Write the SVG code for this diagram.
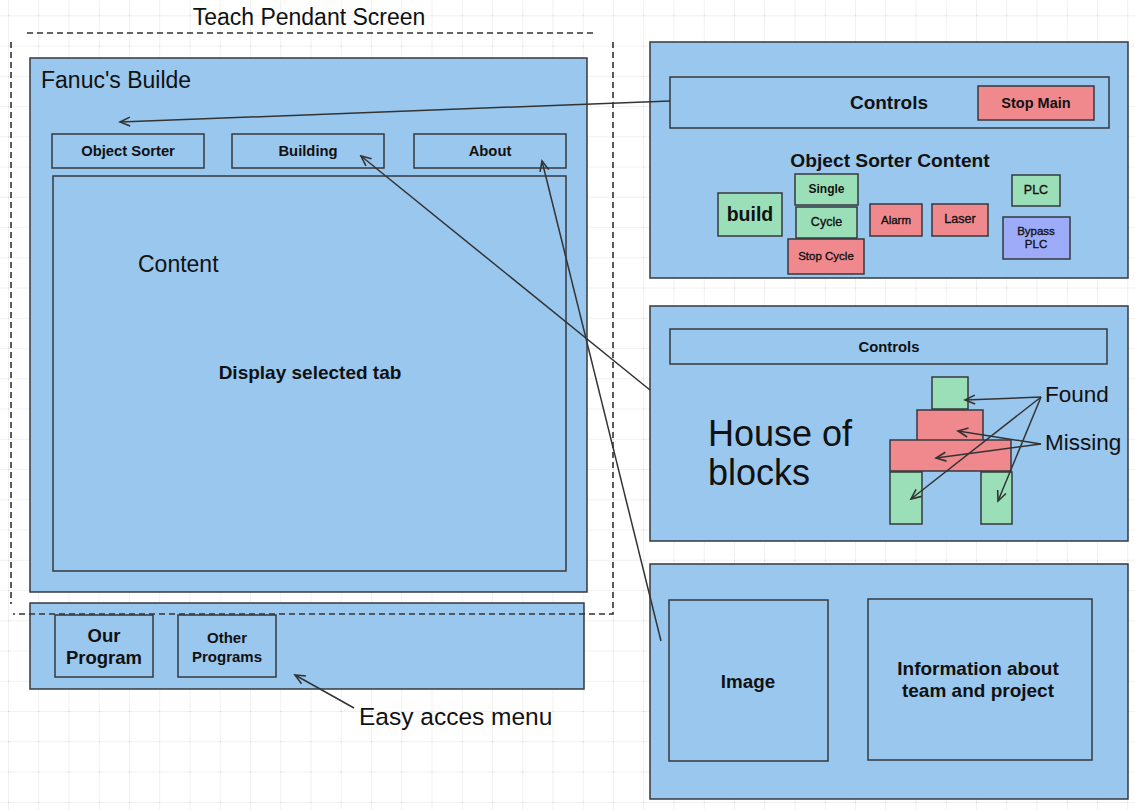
<svg xmlns="http://www.w3.org/2000/svg" width="1135" height="810" viewBox="0 0 1135 810">
<defs>
<pattern id="grid" patternUnits="userSpaceOnUse" x="8" y="15.3" width="30.25" height="30.25">
<path d="M0,0 H30.25 M0,0 V30.25" fill="none" stroke="#e4e4e4" stroke-width="1"/>
<rect x="-1" y="-1" width="2" height="2" fill="#cfcfcf"/>
</pattern>
<marker id="open" markerUnits="userSpaceOnUse" markerWidth="14" markerHeight="14" refX="12" refY="7" orient="auto">
<path d="M2,2.5 L12,7 L2,11.5" fill="none" stroke="#333" stroke-width="1.6"/>
</marker>
<style>
.box{fill:#99C7EE;stroke:#36393D;stroke-width:1.5}
.red{fill:#F0898D;stroke:#36393D;stroke-width:1.5}
.green{fill:#9ADFB8;stroke:#36393D;stroke-width:1.5}
.purple{fill:#9DABF8;stroke:#36393D;stroke-width:1.5}
.t{font-family:"Liberation Sans",Arial,sans-serif;fill:#111}
.b{font-weight:bold}
.m{stroke:#111;stroke-width:0.35}
.c{text-anchor:middle;dominant-baseline:central}
.ln{fill:none;stroke:#333;stroke-width:1.5}
.dash{fill:none;stroke:#333;stroke-width:1.6;stroke-dasharray:6 4}
</style>
</defs>
<rect width="1135" height="810" fill="#ffffff"/>
<rect width="1135" height="810" fill="url(#grid)"/>

<g id="main-panel">
<rect class="box" x="30" y="58" width="557" height="534"/>
<text class="t" x="41" y="88" font-size="23">Fanuc's Builde</text>
</g>
<g id="tab-object-sorter">
<rect class="box" x="52" y="134" width="152" height="34"/>
<text class="t b c" x="128" y="151" font-size="14.8">Object Sorter</text>
</g>
<g id="tab-building">
<rect class="box" x="232" y="134" width="152" height="34"/>
<text class="t b c" x="308" y="151" font-size="14.8">Building</text>
</g>
<g id="tab-about">
<rect class="box" x="414" y="134" width="152" height="34"/>
<text class="t b c" x="490" y="151" font-size="14.8">About</text>
</g>
<g id="content">
<rect class="box" x="53" y="176" width="513" height="395"/>
<text class="t" x="138" y="272" font-size="23">Content</text>
<text class="t b" x="310" y="379" font-size="19" text-anchor="middle">Display selected tab</text>
</g>

<g id="easy-menu">
<rect class="box" x="30" y="603" width="554" height="86"/>
</g>
<g id="our-program">
<rect class="box" x="55" y="615" width="98" height="62"/>
<text class="t b c" x="104" y="635" font-size="18.5">Our</text>
<text class="t b c" x="104" y="657" font-size="18.5">Program</text>
</g>
<g id="other-programs">
<rect class="box" x="178" y="615" width="98" height="62"/>
<text class="t b c" x="227" y="637" font-size="15">Other</text>
<text class="t b c" x="227" y="656" font-size="15">Programs</text>
</g>

<g id="teach-pendant-frame">
<text class="t" x="309" y="25" font-size="23" text-anchor="middle">Teach Pendant Screen</text>
<path class="dash" d="M27,33 H595"/>
<path class="dash" d="M11,42 V604"/>
<path class="dash" d="M613,42 V614 H13"/>
</g>

<g id="object-sorter-panel">
<rect class="box" x="650" y="42" width="478" height="236"/>
<rect class="box" x="670" y="77" width="439" height="51"/>
<text class="t b c" x="889" y="102" font-size="19">Controls</text>
<text class="t b c" x="890" y="160" font-size="19.2">Object Sorter Content</text>
</g>
<g id="btn-stop-main">
<rect class="red" x="978" y="86" width="116" height="34"/>
<text class="t b c" x="1036" y="103" font-size="14.5">Stop Main</text>
</g>
<g id="btn-build">
<rect class="green" x="718" y="193" width="64" height="43"/>
<text class="t b c" x="750" y="214" font-size="19.5">build</text>
</g>
<g id="btn-single">
<rect class="green" x="795" y="174" width="63" height="31"/>
<text class="t b c" x="826.5" y="189" font-size="12">Single</text>
</g>
<g id="btn-cycle">
<rect class="green" x="796" y="207" width="61" height="31"/>
<text class="t m c" x="826.5" y="222" font-size="12.5">Cycle</text>
</g>
<g id="btn-stop-cycle">
<rect class="red" x="788" y="239" width="76" height="35"/>
<text class="t m c" x="826" y="256" font-size="11.5">Stop Cycle</text>
</g>
<g id="btn-alarm">
<rect class="red" x="870" y="204" width="52" height="32"/>
<text class="t m c" x="896" y="220" font-size="11.5">Alarm</text>
</g>
<g id="btn-laser">
<rect class="red" x="932" y="204" width="56" height="32"/>
<text class="t m c" x="960" y="219" font-size="12.5">Laser</text>
</g>
<g id="btn-plc">
<rect class="green" x="1012" y="175" width="48" height="31"/>
<text class="t m c" x="1036" y="190" font-size="12.5">PLC</text>
</g>
<g id="btn-bypass-plc">
<rect class="purple" x="1003" y="217" width="67" height="42"/>
<text class="t m c" x="1036" y="231" font-size="11.5">Bypass</text>
<text class="t m c" x="1036" y="244" font-size="11.5">PLC</text>
</g>

<g id="building-panel">
<rect class="box" x="650" y="306" width="478" height="235"/>
<rect class="box" x="670" y="329" width="437" height="35"/>
<text class="t b c" x="889" y="347" font-size="14.8">Controls</text>
<text class="t" x="708" y="446" font-size="36">House of</text>
<text class="t" x="708" y="485" font-size="36">blocks</text>
<text class="t" x="1045" y="402" font-size="22.5">Found</text>
<text class="t" x="1045" y="450" font-size="22.5">Missing</text>
</g>
<g id="block-top"><rect class="green" x="932" y="377" width="36" height="32"/></g>
<g id="block-mid"><rect class="red" x="917" y="410" width="66" height="31"/></g>
<g id="block-bottom"><rect class="red" x="890" y="440" width="121" height="31"/></g>
<g id="block-leg-left"><rect class="green" x="890" y="472" width="32" height="52"/></g>
<g id="block-leg-right"><rect class="green" x="981" y="472" width="31" height="52"/></g>

<g id="about-panel">
<rect class="box" x="650" y="564" width="478" height="235"/>
</g>
<g id="image-box">
<rect class="box" x="669" y="600" width="159" height="161"/>
<text class="t b c" x="748" y="681" font-size="18.8">Image</text>
</g>
<g id="info-box">
<rect class="box" x="868" y="599" width="224" height="161"/>
<text class="t b c" x="978" y="668" font-size="19">Information about</text>
<text class="t b c" x="978" y="690" font-size="19">team and project</text>
</g>

<g id="easy-label">
<text class="t" x="359" y="725" font-size="24.5">Easy acces menu</text>
</g>

<g id="connectors">
<path class="ln" d="M670,101 L120,122" marker-end="url(#open)"/>
<path class="ln" d="M650,390 L361,156" marker-end="url(#open)"/>
<path class="ln" d="M661,641 L542,161" marker-end="url(#open)"/>
<path class="ln" d="M354,708 L295,675" marker-end="url(#open)"/>
<path class="ln" d="M1041,397 L965,400" marker-end="url(#open)"/>
<path class="ln" d="M1041,397 L911,499" marker-end="url(#open)"/>
<path class="ln" d="M1041,397 L998,501" marker-end="url(#open)"/>
<path class="ln" d="M1041,444 L958,431" marker-end="url(#open)"/>
<path class="ln" d="M1041,444 L936,458" marker-end="url(#open)"/>
</g>
</svg>
